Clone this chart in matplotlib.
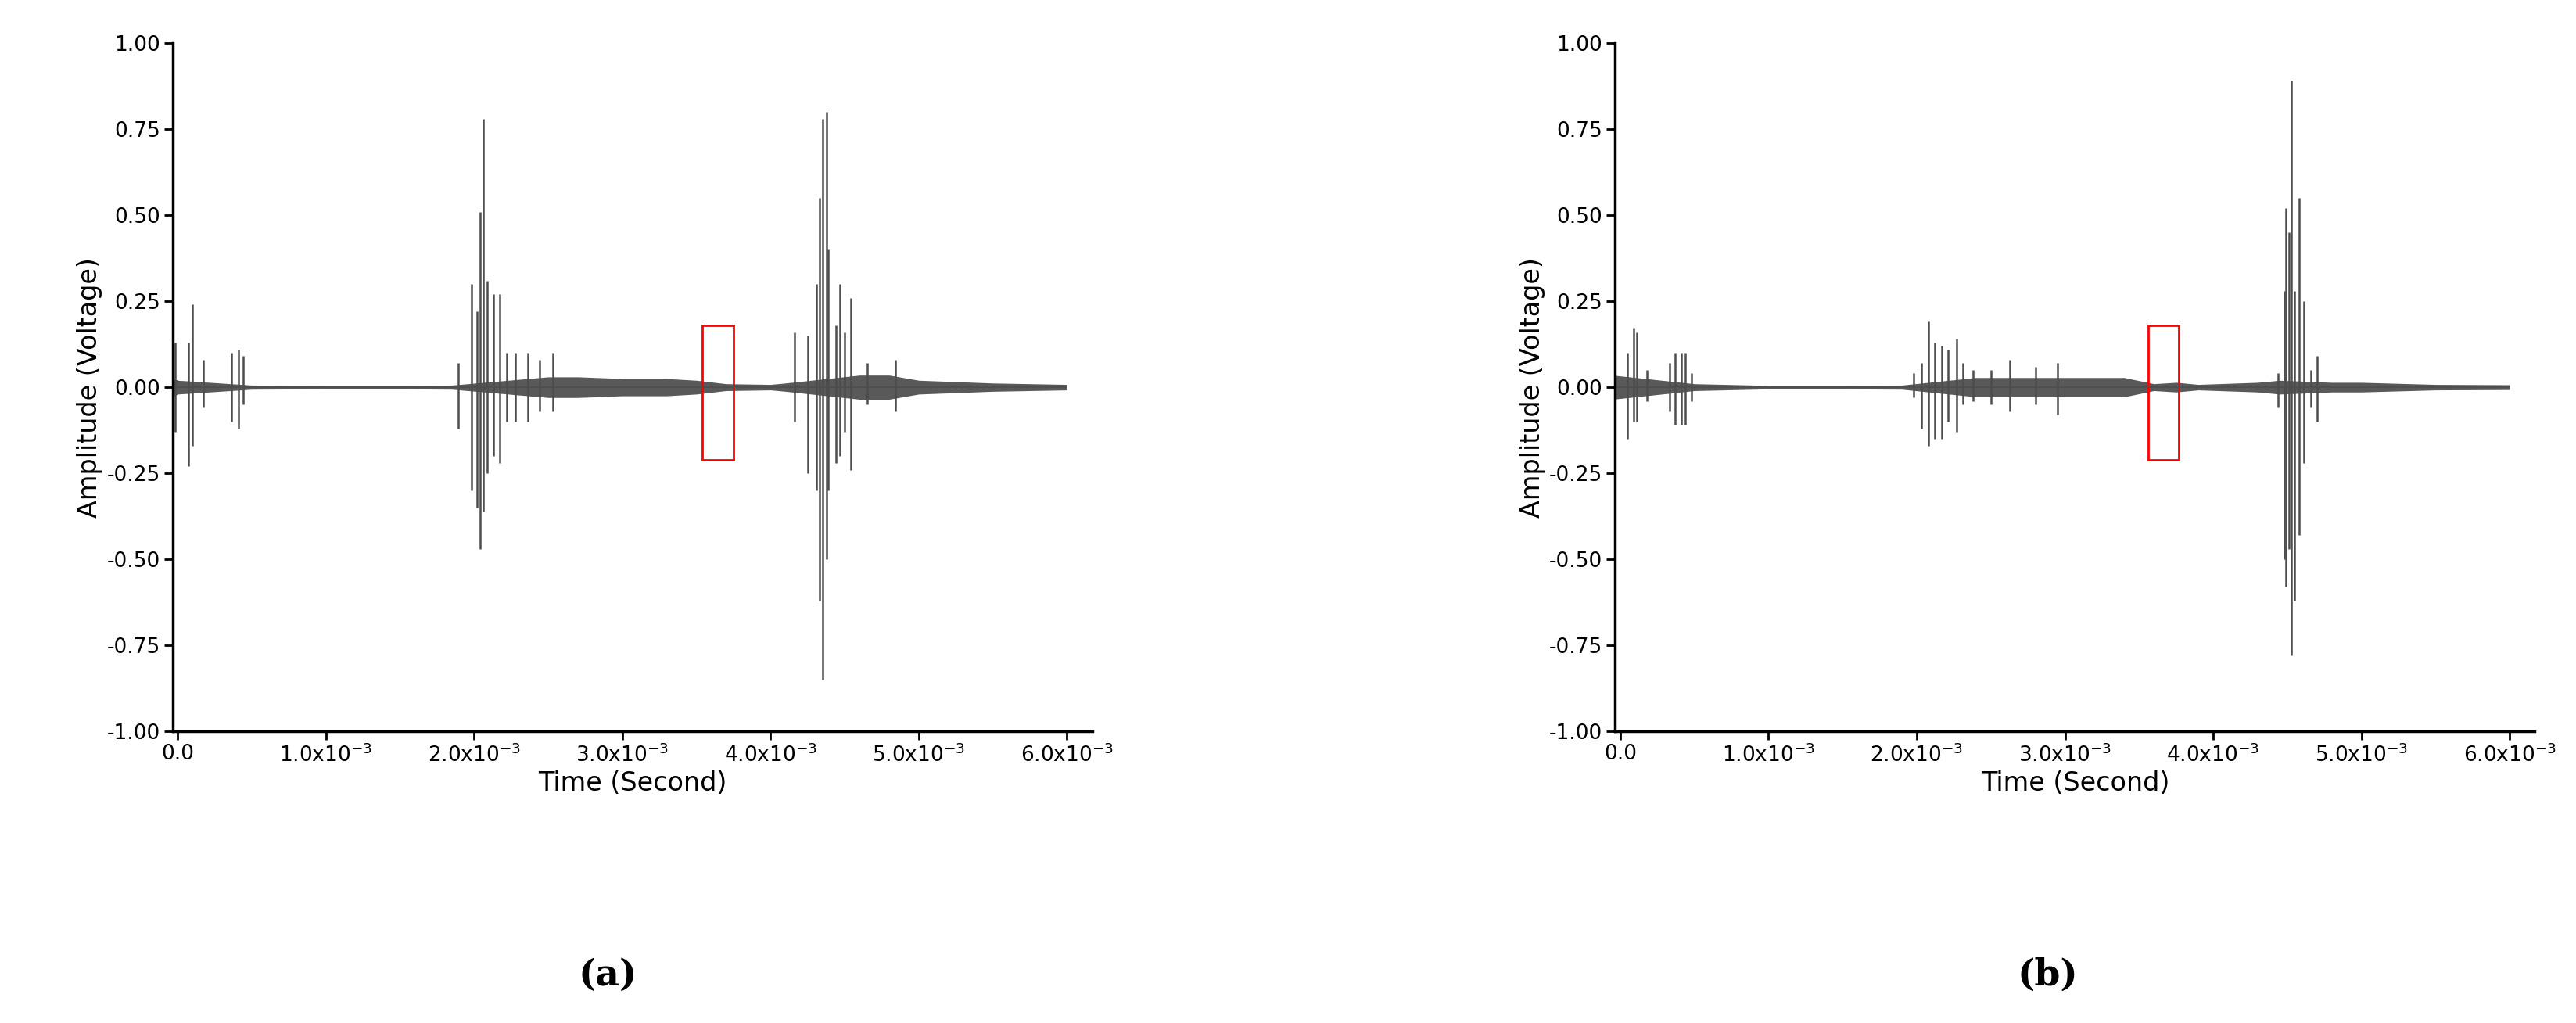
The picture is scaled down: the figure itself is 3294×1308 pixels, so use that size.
import numpy as np
import matplotlib.pyplot as plt
from matplotlib.patches import Rectangle

# time in ms (x1e-3 s)
# panel (a) spikes: time, max, min
a_t  = [-0.02, 0.07, 0.10, 0.17, 0.36, 0.41, 0.44,
        1.89, 1.98, 2.02, 2.04, 2.06, 2.09, 2.13, 2.17, 2.22, 2.28, 2.36, 2.44, 2.53,
        4.16, 4.25, 4.31, 4.33, 4.35, 4.38, 4.39, 4.44, 4.47, 4.50, 4.54, 4.65, 4.84]
a_hi = [0.13, 0.13, 0.24, 0.08, 0.10, 0.11, 0.09,
        0.07, 0.30, 0.22, 0.51, 0.78, 0.31, 0.27, 0.27, 0.10, 0.10, 0.10, 0.08, 0.10,
        0.16, 0.15, 0.30, 0.55, 0.78, 0.80, 0.40, 0.18, 0.30, 0.16, 0.26, 0.07, 0.08]
a_lo = [-0.13, -0.23, -0.17, -0.06, -0.10, -0.12, -0.05,
        -0.12, -0.30, -0.35, -0.47, -0.36, -0.25, -0.20, -0.22, -0.10, -0.10, -0.10, -0.07, -0.07,
        -0.10, -0.25, -0.30, -0.62, -0.85, -0.50, -0.30, -0.22, -0.20, -0.13, -0.24, -0.05, -0.07]
a_env_t = [-0.05, 0.0, 0.5, 1.0, 1.5, 1.85, 2.5, 2.7, 3.0, 3.3, 3.5, 3.7, 4.0, 4.1, 4.6, 4.8, 5.0, 5.5, 6.0]
a_env   = [0.03, 0.02, 0.006, 0.005, 0.005, 0.006, 0.03, 0.03, 0.025, 0.025, 0.02, 0.01, 0.008, 0.012,
           0.035, 0.035, 0.02, 0.012, 0.008]

# panel (b)
b_t  = [-0.05, 0.05, 0.09, 0.11, 0.18, 0.33, 0.37, 0.41, 0.44, 0.48,
        1.98, 2.03, 2.08, 2.12, 2.17, 2.21, 2.27, 2.31, 2.38, 2.50, 2.63, 2.80, 2.95,
        4.44, 4.48, 4.49, 4.51, 4.53, 4.55, 4.58, 4.61, 4.66, 4.70]
b_hi = [0.05, 0.10, 0.17, 0.16, 0.05, 0.07, 0.10, 0.10, 0.10, 0.04,
        0.04, 0.07, 0.19, 0.13, 0.12, 0.11, 0.14, 0.07, 0.05, 0.05, 0.08, 0.06, 0.07,
        0.04, 0.28, 0.52, 0.45, 0.89, 0.28, 0.55, 0.25, 0.05, 0.09]
b_lo = [-0.04, -0.15, -0.10, -0.10, -0.04, -0.07, -0.11, -0.11, -0.11, -0.04,
        -0.03, -0.12, -0.17, -0.15, -0.15, -0.10, -0.13, -0.05, -0.04, -0.05, -0.07, -0.05, -0.08,
        -0.06, -0.50, -0.58, -0.47, -0.78, -0.62, -0.43, -0.22, -0.06, -0.10]
b_env_t = [-0.05, 0.5, 1.0, 1.5, 1.9, 2.4, 2.9, 3.2, 3.4, 3.6, 3.75, 3.9, 4.3, 4.45, 4.8, 5.0, 5.5, 6.0]
b_env   = [0.035, 0.01, 0.005, 0.005, 0.006, 0.028, 0.028, 0.028, 0.028, 0.01, 0.014, 0.008, 0.014, 0.02,
           0.014, 0.014, 0.008, 0.007]

xticks = [0, 1, 2, 3, 4, 5, 6]
xlabels = ['0.0'] + [r'%d.0x10$^{-3}$' % i for i in range(1, 7)]
yticks = [-1.0, -0.75, -0.5, -0.25, 0.0, 0.25, 0.5, 0.75, 1.0]

fig = plt.figure(figsize=(32.94, 13.08), dpi=100)
ax1 = fig.add_axes([0.067, 0.285, 0.357, 0.673])
ax2 = fig.add_axes([0.627, 0.285, 0.357, 0.673])

panels = [(ax1, a_t, a_hi, a_lo, a_env_t, a_env, 3.54, '(a)', 0.236),
          (ax2, b_t, b_hi, b_lo, b_env_t, b_env, 3.56, '(b)', 0.795)]
for ax, t, hi, lo, et, ev, rx, lab, lx in panels:
    et = np.array(et); ev = np.array(ev)
    ax.fill_between(et, -ev, ev, color='0.35', lw=0)
    ax.plot(et, np.zeros_like(et), color='0.3', lw=1.2)
    ax.vlines(t, lo, hi, color='0.3', lw=1.8)
    ax.add_patch(Rectangle((rx, -0.21), 0.21, 0.39, fill=False, ec='red', lw=2))
    ax.set_xlim(-0.035, 6.17)
    ax.set_ylim(-1.0, 1.0)
    ax.set_xticks(xticks)
    ax.set_xticklabels(xlabels)
    ax.set_yticks(yticks)
    ax.set_yticklabels(['%.2f' % v for v in yticks])
    ax.tick_params(labelsize=19, width=2, length=8)
    for s in ['top', 'right']:
        ax.spines[s].set_visible(False)
    for s in ['left', 'bottom']:
        ax.spines[s].set_linewidth(2.5)
    ax.set_xlabel('Time (Second)', fontsize=24)
    ax.set_ylabel('Amplitude (Voltage)', fontsize=24)
    fig.text(lx, 0.037, lab, fontsize=34, fontweight='bold', family='DejaVu Serif', ha='center')

fig.savefig('out.png', dpi=100)
